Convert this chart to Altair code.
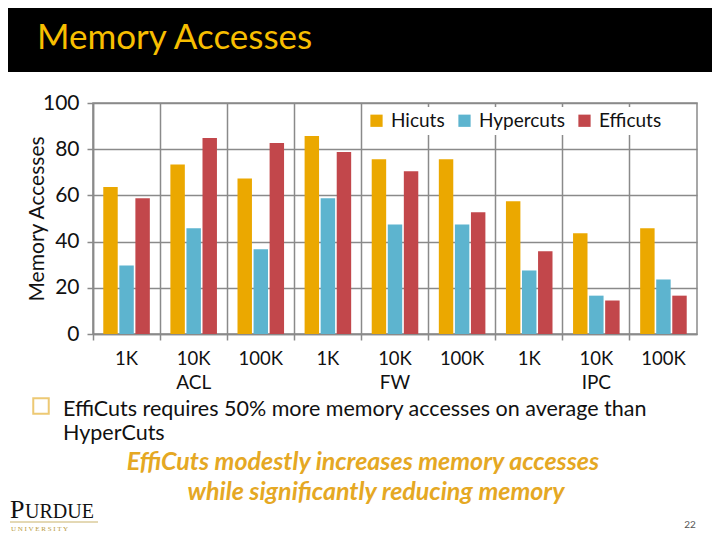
import altair as alt
import pandas as pd

# ---------------- data ----------------
groups = ["ACL", "FW", "IPC"]
sizes = ["1K", "10K", "100K"]
series = ["Hicuts", "Hypercuts", "Efficuts"]
hicuts = [63.6, 73.4, 67.3, 85.7, 75.6, 75.6, 57.5, 43.6, 45.8]
hypercuts = [29.6, 45.8, 36.7, 58.8, 47.4, 47.4, 27.5, 16.6, 23.6]
efficuts = [58.8, 84.8, 82.7, 78.8, 70.5, 52.7, 35.8, 14.5, 16.6]
y_ticks = [0, 20, 40, 60, 80, 100]

title_text = "Memory Accesses"
y_title = "Memory Accesses"
bullet_lines = ["EffiCuts requires 50% more memory accesses on average than", "HyperCuts"]
note_lines = ["EffiCuts modestly increases memory accesses", "while significantly reducing memory"]
page_num = "22"

cats = [f"{g}|{s}" for g in groups for s in sizes]
rows = []
for name, vals in zip(series, [hicuts, hypercuts, efficuts]):
    for c, v in zip(cats, vals):
        rows.append({"cat": c, "series": name, "value": v})
df = pd.DataFrame(rows)
grp_df = pd.DataFrame({"cat": [f"{g}|10K" for g in groups], "label": groups})

FONT = "Lato"
GRID = "#8a8a8a"
colors = ["#EBA800", "#5DB4CF", "#C2474B"]

W, H = 604, 231

x_axis = alt.Axis(title=None, labelExpr="split(datum.label, '|')[1]",
                  labelAngle=0, labelFont=FONT, labelFontSize=18.5, labelColor="#111",
                  labelPadding=9, labelBaseline="top",
                  tickSize=6, tickColor=GRID, tickWidth=1.5, bandPosition=0,
                  grid=True, gridColor=GRID, gridWidth=1.5,
                  domainColor=GRID, domainWidth=1.5)
x_scale = alt.Scale(domain=cats, paddingInner=0, paddingOuter=0)

bars = alt.Chart(df).mark_bar().encode(
    x=alt.X("cat:N", sort=cats, scale=x_scale, axis=x_axis),
    xOffset=alt.XOffset("series:N", sort=series,
                        scale=alt.Scale(domain=series, paddingInner=0.1, paddingOuter=0.64)),
    y=alt.Y("value:Q", scale=alt.Scale(domain=[0, 100], nice=False),
            axis=alt.Axis(values=y_ticks, title=y_title, titleFont=FONT, titleFontSize=21,
                          titleFontWeight="normal", titleColor="#111",
                          titleAngle=270, titleX=-56, titleY=H / 2, titleAlign="center",
                          titleBaseline="middle",
                          labelFont=FONT, labelFontSize=21, labelColor="#111", labelPadding=8,
                          tickSize=6, tickColor=GRID, tickWidth=1.5,
                          grid=True, gridColor=GRID, gridWidth=1.5,
                          domainColor=GRID, domainWidth=1.5)),
    color=alt.Color("series:N", sort=series,
                    scale=alt.Scale(domain=series, range=colors),
                    legend=alt.Legend(orient="none", legendX=270, legendY=4, direction="horizontal",
                                      title=None, fillColor="white", padding=4,
                                      labelFont=FONT, labelFontSize=19, labelColor="#111",
                                      symbolType="square", symbolSize=150, symbolStrokeWidth=0,
                                      columnPadding=10, labelOffset=5)),
)

grp_labels = alt.Chart(grp_df).mark_text(font=FONT, fontSize=19, color="#111", baseline="alphabetic").encode(
    x=alt.X("cat:N", sort=cats, scale=x_scale, axis=x_axis), y=alt.value(286), text="label:N")

band = alt.Chart(pd.DataFrame({"t": [title_text]})).mark_rect(color="black").encode(
    x=alt.value(-85), x2=alt.value(619), y=alt.value(-95), y2=alt.value(-31))

title = alt.Chart(pd.DataFrame({"t": [title_text]})).mark_text(
    font=FONT, fontSize=35, color="#F7BE00", align="left", baseline="alphabetic").encode(
    x=alt.value(-56), y=alt.value(-54), text="t:N")

bullet = alt.Chart(pd.DataFrame({"t": [bullet_lines[0]]})).mark_point(
    shape="square", filled=False, color="#E6B33A", strokeWidth=2, size=240).encode(
    x=alt.value(-52), y=alt.value(303))

b1 = alt.Chart(pd.DataFrame({"t": [bullet_lines[0]]})).mark_text(
    font=FONT, fontSize=21.5, color="#111", align="left", baseline="alphabetic").encode(
    x=alt.value(-30), y=alt.value(313), text="t:N")
b2 = alt.Chart(pd.DataFrame({"t": [bullet_lines[1]]})).mark_text(
    font=FONT, fontSize=21.5, color="#111", align="left", baseline="alphabetic").encode(
    x=alt.value(-30), y=alt.value(337), text="t:N")

n1 = alt.Chart(pd.DataFrame({"t": [note_lines[0]]})).mark_text(
    font=FONT, fontSize=25, fontStyle="italic", fontWeight="bold", color="#E5A823",
    align="center", baseline="alphabetic").encode(x=alt.value(270), y=alt.value(367), text="t:N")
n2 = alt.Chart(pd.DataFrame({"t": [note_lines[1]]})).mark_text(
    font=FONT, fontSize=25, fontStyle="italic", fontWeight="bold", color="#E5A823",
    align="center", baseline="alphabetic").encode(x=alt.value(283), y=alt.value(397), text="t:N")

logo_p = alt.Chart(pd.DataFrame({"t": ["P"]})).mark_text(
    font="Liberation Serif", fontSize=26, color="#111", align="left", baseline="alphabetic").encode(
    x=alt.value(-83), y=alt.value(415), text="t:N")
logo_r = alt.Chart(pd.DataFrame({"t": ["URDUE"]})).mark_text(
    font="Liberation Serif", fontSize=20, color="#111", align="left", baseline="alphabetic").encode(
    x=alt.value(-68), y=alt.value(415), text="t:N")
logo_line = alt.Chart(pd.DataFrame({"t": ["line"]})).mark_rule(color="#C9B26A", strokeWidth=1).encode(
    x=alt.value(-83), x2=alt.value(5), y=alt.value(419))
logo_u = alt.Chart(pd.DataFrame({"t": ["U  N  I  V  E  R  S  I  T  Y"]})).mark_text(
    font="Liberation Serif", fontSize=7, color="#B89A3C", align="left", baseline="alphabetic").encode(
    x=alt.value(-82), y=alt.value(428), text="t:N")

pg = alt.Chart(pd.DataFrame({"t": [page_num]})).mark_text(
    font=FONT, fontSize=10, color="#555", align="center", baseline="alphabetic").encode(
    x=alt.value(597), y=alt.value(425), text="t:N")

chart = alt.layer(bars, grp_labels, band, title, bullet, b1, b2, n1, n2,
                  logo_p, logo_r, logo_line, logo_u, pg).properties(
    width=W, height=H,
    padding={"left": 85, "top": 95, "right": 15, "bottom": 198},
    autosize=alt.AutoSizeParams(type="none"),
    background="white",
).configure_view(stroke=GRID, strokeWidth=1.5)

chart.save("out.html", embed_options={"renderer": "svg", "actions": False})
